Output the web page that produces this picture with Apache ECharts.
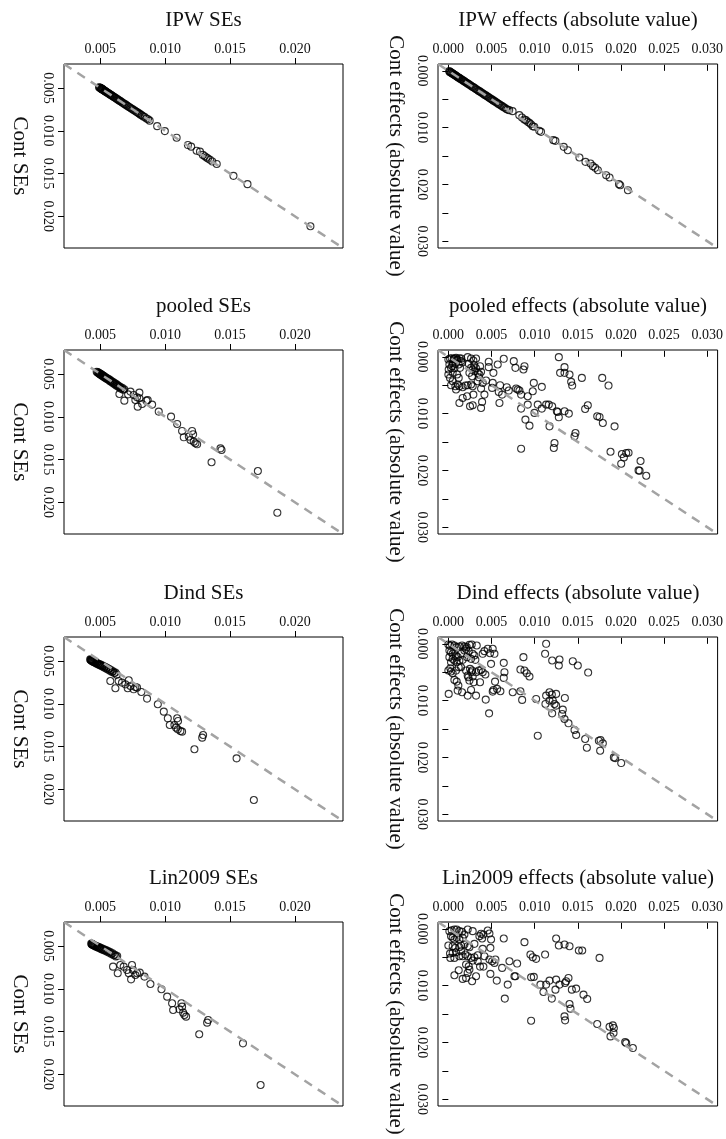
<!DOCTYPE html>
<html>
<head>
<meta charset="utf-8">
<script src="https://cdn.jsdelivr.net/npm/echarts@6/dist/echarts.min.js"></script>
<style>
  html, body { margin: 0; background: #fff; }
  #chart { width: 726px; height: 1139px; }
</style>
</head>
<body>
<div id="chart"></div>
<script>
// panels: one row per method, SEs on the left, effects on the right
const methods = ['IPW', 'pooled', 'Dind', 'Lin2009'];
const seRange = [0.0022, 0.0237];
const effRange = [-0.0012, 0.0312];
const seTicks = [0.005, 0.010, 0.015, 0.020];
const effTicks = [0.000, 0.005, 0.010, 0.015, 0.020, 0.025, 0.030];
const effYLabels = [0.000, 0.010, 0.020, 0.030];

const ipwSe = [
  [.00490,.00492],[.00495,.00494],[.00500,.00498],[.00502,.00505],[.00505,.00503],[.00508,.00510],[.00510,.00508],
  [.00513,.00515],[.00516,.00514],[.00519,.00520],[.00522,.00524],[.00526,.00525],[.00530,.00532],[.00534,.00533],
  [.00538,.00540],[.00542,.00541],[.00546,.00548],[.00551,.00550],[.00556,.00558],[.00561,.00560],[.00566,.00568],
  [.00571,.00570],[.00576,.00578],[.00581,.00580],[.00587,.00588],[.00592,.00591],[.00598,.00600],[.00604,.00603],
  [.00610,.00612],[.00617,.00615],[.00624,.00626],[.00631,.00630],[.00638,.00640],[.00645,.00644],[.00652,.00654],
  [.00660,.00658],[.00668,.00670],[.00676,.00675],[.00685,.00687],[.00693,.00692],[.00702,.00704],[.00711,.00710],
  [.00720,.00722],[.00729,.00728],[.00738,.00740],[.00747,.00746],[.00756,.00758],[.00765,.00764],[.00774,.00776],
  [.00783,.00782],[.00792,.00794],[.00801,.00800],[.00810,.00812],[.00820,.00818],[.00830,.00832],[.00842,.00840],
  [.00855,.00856],[.00868,.00866],[.00880,.00882],
  [.00938,.00946],[.00997,.01004],[.01088,.01081],[.01175,.01167],[.01200,.01186],[.01242,.01233],[.01268,.01244],
  [.01290,.01282],[.01305,.01298],[.01318,.01312],[.01330,.01325],[.01345,.01338],[.01363,.01360],[.01397,.01388],
  [.01526,.01527],[.01634,.01624],[.02119,.02116]
];

const ipwEff = [
  [.00010,.00005],[.00015,.00020],[.00022,.00018],[.00030,.00032],[.00038,.00035],[.00045,.00048],[.00052,.00050],
  [.00060,.00062],[.00068,.00066],[.00075,.00078],[.00083,.00080],[.00090,.00093],[.00098,.00096],[.00106,.00108],
  [.00114,.00112],[.00122,.00125],[.00130,.00128],[.00140,.00142],[.00150,.00148],[.00160,.00163],[.00170,.00168],
  [.00180,.00182],[.00190,.00188],[.00200,.00203],[.00212,.00210],[.00224,.00226],[.00236,.00234],[.00248,.00250],
  [.00260,.00258],[.00272,.00275],[.00285,.00283],[.00298,.00300],[.00310,.00308],[.00322,.00325],[.00335,.00333],
  [.00348,.00350],[.00360,.00358],[.00372,.00375],[.00385,.00383],[.00398,.00400],[.00410,.00408],[.00422,.00425],
  [.00435,.00433],[.00448,.00450],[.00460,.00458],[.00472,.00475],[.00485,.00483],[.00498,.00500],[.00510,.00508],
  [.00522,.00525],[.00535,.00533],[.00548,.00550],[.00560,.00558],[.00575,.00578],[.00590,.00588],[.00605,.00607],
  [.00620,.00618],[.00635,.00638],[.00650,.00648],[.00668,.00670],[.00685,.00683],[.00705,.00693],
  [.00744,.00710],[.00822,.00781],[.00853,.00822],[.00880,.00857],[.00899,.00869],[.00919,.00898],[.00938,.00916],
  [.00957,.00940],[.00977,.00975],[.00996,.00986],[.01054,.01057],[.01074,.01075],[.01217,.01221],[.01240,.01233],
  [.01337,.01339],[.01384,.01398],[.01519,.01527],[.01589,.01603],[.01647,.01632],[.01674,.01679],[.01702,.01709],
  [.01733,.01750],[.01829,.01838],[.01868,.01879],[.01977,.01996],[.01992,.02014],[.02081,.02102]
];

const pooledSe = [
  [.00472,.00474],[.00478,.00482],[.00483,.00480],[.00487,.00492],[.00490,.00488],[.00494,.00500],[.00497,.00495],
  [.00500,.00506],[.00503,.00502],[.00506,.00512],[.00510,.00508],[.00513,.00520],[.00517,.00515],[.00520,.00528],
  [.00524,.00522],[.00528,.00536],[.00532,.00530],[.00536,.00545],[.00540,.00538],[.00545,.00552],[.00550,.00548],
  [.00555,.00562],[.00560,.00556],[.00565,.00572],[.00570,.00566],[.00575,.00584],[.00580,.00576],[.00586,.00594],
  [.00592,.00588],[.00598,.00608],[.00604,.00600],[.00610,.00620],[.00616,.00612],[.00622,.00634],[.00628,.00625],
  [.00634,.00645],[.00640,.00638],[.00646,.00658],[.00652,.00650],[.00660,.00672],[.00668,.00662],[.00676,.00684],
  [.00684,.00678],
  [.00647,.00734],[.00685,.00812],[.00714,.00738],[.00732,.00706],[.00757,.00745],[.00770,.00804],[.00783,.00773],
  [.00801,.00718],[.00801,.00784],[.00788,.00882],[.00822,.00851],[.00855,.00812],[.00865,.00804],[.00899,.00858],
  [.00950,.00940],[.01045,.00999],[.01092,.01084],[.01130,.01166],[.01143,.01240],[.01182,.01232],[.01195,.01271],
  [.01207,.01166],[.01215,.01205],[.01220,.01291],[.01233,.01310],[.01246,.01322],[.01357,.01532],[.01426,.01369],
  [.01434,.01388],[.01714,.01634],[.01864,.02121]
];

const pooledEff = [
  [.00000,.00047],[.00019,.00029],[.00039,.00024],[.00062,.00041],[.00089,.00018],[.00108,.00047],[.00128,.00024],
  [.00147,.00076],[.00050,.00106],[.00081,.00124],[.00120,.00135],[.00135,.00194],[.00012,.00135],[.00031,.00194],
  [.00000,.00312],[.00019,.00371],[.00050,.00429],[.00031,.00500],[.00081,.00518],[.00108,.00488],[.00089,.00576],
  [.00128,.00518],[.00166,.00535],[.00197,.00506],[.00224,.00500],[.00263,.00488],[.00282,.00518],[.00120,.00371],
  [.00101,.00312],[.00050,.00282],[.00004,.00224],[.00224,.00006],[.00263,.00029],[.00290,.00065],[.00321,.00029],
  [.00236,.00124],[.00263,.00194],[.00282,.00224],[.00302,.00253],[.00340,.00282],[.00360,.00312],[.00275,.00341],
  [.00379,.00265],[.00367,.00165],[.00352,.00359],[.00244,.00282],[.00070,.00030],[.00100,.00060],[.00150,.00030],
  [.00045,.00160],[.00070,.00200],[.00160,.00100],[.00300,.00150],[.00320,.00200],
  [.00128,.00812],[.00166,.00724],[.00217,.00694],[.00251,.00871],[.00282,.00853],[.00290,.00665],[.00379,.00900],
  [.00391,.00794],[.00418,.00665],[.00379,.00559],[.00398,.00459],[.00340,.00429],[.00437,.00418],[.00468,.00088],
  [.00468,.00182],[.00522,.00282],[.00514,.00459],[.00507,.00547],[.00572,.00135],[.00584,.00618],[.00592,.00812],
  [.00599,.00500],[.00623,.00665],[.00642,.00035],[.00677,.00535],[.00700,.00594],[.00758,.00076],[.00777,.00194],
  [.00785,.00559],[.00804,.00576],[.00824,.00594],[.00843,.00665],[.00882,.00165],[.00870,.00224],[.00843,.00912],
  [.00893,.01106],[.00920,.00694],[.00920,.00841],[.00940,.01212],[.00978,.00606],[.00990,.00459],[.00998,.00988],
  [.01083,.00529],[.01036,.00841],[.01083,.00912],[.01133,.00841],[.01164,.00841],[.01203,.00871],[.01172,.01224],
  [.01230,.01518],[.01222,.01606],[.01257,.00959],[.01268,.00971],[.01280,.01065],[.01280,.00006],[.01295,.00282],
  [.01346,.00182],[.01346,.00282],[.01346,.00959],[.01396,.01000],[.01404,.00312],[.01423,.00441],[.01435,.00506],
  [.00843,.01618],[.01462,.01400],[.01473,.01341],[.01547,.00371],[.01585,.00918],[.01616,.00853],[.01725,.01047],
  [.01752,.01059],[.01790,.01165],[.01783,.00371],[.01856,.00506],[.01926,.01224],[.01879,.01671],[.02011,.01712],
  [.02034,.01771],[.02061,.01694],[.02088,.01688],[.02003,.01882],[.02227,.01835],[.02204,.02000],[.02216,.02006],
  [.02293,.02094]
];

const dindSe = [
  [.00422,.00482],[.00425,.00490],[.00428,.00486],[.00431,.00496],[.00434,.00492],[.00437,.00502],[.00440,.00497],
  [.00444,.00508],[.00448,.00503],[.00452,.00515],[.00456,.00510],[.00460,.00522],[.00465,.00517],[.00470,.00530],
  [.00475,.00524],[.00480,.00538],[.00486,.00532],[.00492,.00547],[.00498,.00540],[.00504,.00556],[.00510,.00549],
  [.00516,.00566],[.00523,.00558],[.00530,.00577],[.00537,.00568],[.00544,.00588],[.00551,.00580],[.00558,.00600],
  [.00566,.00592],[.00574,.00614],[.00582,.00605],[.00590,.00628],[.00598,.00620],[.00607,.00642],[.00616,.00636],
  [.00626,.00660],
  [.00577,.00734],[.00616,.00819],[.00641,.00734],[.00667,.00753],[.00693,.00773],[.00711,.00819],[.00719,.00726],
  [.00732,.00792],[.00757,.00831],[.00770,.00804],[.00783,.00812],[.00816,.00862],[.00860,.00940],[.00943,.01006],
  [.00989,.01092],[.01020,.01170],[.01035,.01248],[.01071,.01248],[.01092,.01170],[.01099,.01201],[.01084,.01279],
  [.01097,.01299],[.01117,.01318],[.01130,.01326],[.01285,.01396],[.01292,.01365],[.01225,.01532],[.01550,.01638],
  [.01683,.02125]
];

const dindEff = [
  [.00000,.00012],[.00019,.00029],[.00043,.00012],[.00070,.00029],[.00097,.00059],[.00128,.00047],[.00159,.00029],
  [.00186,.00047],[.00213,.00059],[.00244,.00018],[.00271,.00012],[.00329,.00029],[.00012,.00118],[.00031,.00147],
  [.00050,.00176],[.00070,.00118],[.00089,.00206],[.00108,.00235],[.00050,.00265],[.00012,.00235],[.00031,.00324],
  [.00070,.00294],[.00128,.00294],[.00147,.00176],[.00186,.00118],[.00205,.00088],[.00236,.00129],[.00282,.00176],
  [.00302,.00206],[.00313,.00282],[.00263,.00265],[.00217,.00235],[.00166,.00282],[.00097,.00324],[.00398,.00176],
  [.00418,.00129],[.00456,.00088],[.00483,.00165],[.00514,.00088],[.00534,.00176],[.00495,.00353],[.00642,.00335],
  [.00000,.00471],[.00023,.00429],[.00050,.00518],[.00031,.00488],[.00089,.00471],[.00120,.00412],[.00147,.00412],
  [.00070,.00635],[.00097,.00665],[.00116,.00735],[.00108,.00824],[.00159,.00853],[.00224,.00912],[.00263,.00812],
  [.00321,.00912],[.00294,.00676],[.00244,.00647],[.00224,.00559],[.00205,.00471],[.00251,.00441],[.00275,.00471],
  [.00321,.00500],[.00352,.00471],[.00379,.00459],[.00398,.00500],[.00429,.00541],[.00367,.00676],[.00282,.00576],
  [.00232,.00588],[.00263,.00500],[.00004,.00882],[.00541,.00665],[.00522,.00812],[.00514,.00841],[.00565,.00794],
  [.00603,.00835],[.00642,.00600],[.00650,.00500],[.00433,.00982],[.00472,.01224],[.00746,.00853],[.00835,.00835],
  [.00855,.00988],[.00870,.00235],[.00835,.00453],[.00882,.00471],[.00909,.00518],[.00940,.00576],[.01017,.00971],
  [.01036,.01618],[.01133,.00000],[.01121,.00176],[.01203,.00294],[.01288,.00276],[.01280,.00382],[.01442,.00306],
  [.01500,.00382],[.01620,.00506],[.01172,.00853],[.01199,.00894],[.01249,.00882],[.01133,.00912],[.01172,.01000],
  [.01210,.01000],[.01230,.01059],[.01249,.01088],[.01125,.01059],[.01203,.01224],[.01350,.00953],[.01326,.01159],
  [.01319,.01235],[.01346,.01324],[.01392,.01400],[.01462,.01518],[.01481,.01606],[.01585,.01676],[.01605,.01829],
  [.01744,.01706],[.01763,.01694],[.01790,.01753],[.01759,.01882],[.01918,.02000],[.01933,.02012],[.02003,.02100]
];

const linSe = [
  [.00430,.00472],[.00433,.00480],[.00436,.00476],[.00439,.00486],[.00442,.00482],[.00446,.00492],[.00450,.00488],
  [.00454,.00498],[.00458,.00494],[.00463,.00505],[.00468,.00500],[.00473,.00512],[.00478,.00507],[.00484,.00520],
  [.00490,.00514],[.00496,.00528],[.00502,.00522],[.00508,.00537],[.00515,.00530],[.00522,.00546],[.00529,.00539],
  [.00536,.00556],[.00544,.00549],[.00552,.00567],[.00560,.00560],[.00568,.00580],[.00576,.00572],[.00585,.00594],
  [.00594,.00586],[.00603,.00608],[.00612,.00602],[.00621,.00624],[.00630,.00618],
  [.00598,.00742],[.00634,.00819],[.00654,.00722],[.00680,.00742],[.00706,.00780],[.00719,.00819],[.00737,.00890],
  [.00744,.00722],[.00752,.00780],[.00770,.00839],[.00783,.00819],[.00804,.00812],[.00840,.00858],[.00886,.00944],
  [.00971,.01006],[.01015,.01092],[.01053,.01170],[.01061,.01248],[.01110,.01240],[.01125,.01170],[.01130,.01209],
  [.01138,.01279],[.01148,.01307],[.01161,.01326],[.01262,.01532],[.01323,.01396],[.01331,.01365],[.01599,.01638],
  [.01735,.02125]
];

const linEff = [
  [.00012,.00041],[.00039,.00024],[.00070,.00012],[.00097,.00012],[.00128,.00041],[.00159,.00053],[.00186,.00100],
  [.00224,.00012],[.00282,.00041],[.00031,.00129],[.00050,.00159],[.00070,.00188],[.00097,.00159],[.00128,.00188],
  [.00166,.00159],[.00186,.00276],[.00224,.00306],[.00244,.00324],[.00302,.00265],[.00000,.00294],[.00050,.00306],
  [.00081,.00335],[.00128,.00324],[.00147,.00294],[.00360,.00129],[.00391,.00171],[.00406,.00100],[.00379,.00088],
  [.00456,.00029],[.00476,.00082],[.00495,.00188],[.00398,.00353],[.00487,.00335],[.00642,.00171],[.00882,.00235],
  [.00019,.00435],[.00050,.00424],[.00089,.00412],[.00147,.00394],[.00197,.00453],[.00023,.00512],[.00070,.00512],
  [.00128,.00482],[.00166,.00482],[.00224,.00482],[.00263,.00512],[.00302,.00500],[.00340,.00465],[.00282,.00559],
  [.00340,.00571],[.00367,.00665],[.00406,.00665],[.00205,.00629],[.00236,.00659],[.00244,.00718],[.00224,.00776],
  [.00205,.00865],[.00166,.00882],[.00275,.00924],[.00321,.00835],[.00120,.00729],[.00070,.00818],[.00418,.00482],
  [.00476,.00541],[.00507,.00571],[.00534,.00600],[.00545,.00541],[.00623,.00688],[.00487,.00794],[.00561,.00912],
  [.00654,.01229],[.00688,.00982],[.00708,.00571],[.00766,.00835],[.00777,.00835],[.00797,.00612],[.00951,.00453],
  [.00978,.00500],[.01017,.00529],[.00959,.00853],[.00990,.00847],[.01067,.00982],[.01102,.01112],[.01121,.00453],
  [.01133,.00982],[.01172,.00912],[.01199,.01229],[.01241,.01071],[.01249,.00894],[.01249,.00171],[.01280,.00294],
  [.01346,.00276],[.01404,.00306],[.01288,.00982],[.01353,.00953],[.01365,.00924],[.01392,.00865],[.01431,.01071],
  [.01481,.01053],[.01404,.01324],[.01415,.01406],[.01512,.00382],[.01551,.00382],[.01566,.01159],[.01609,.01235],
  [.01346,.01541],[.01353,.01612],[.00959,.01618],[.01725,.01676],[.01752,.00512],[.01868,.01724],[.01906,.01700],
  [.01918,.01747],[.01914,.01835],[.01879,.01894],[.02049,.01994],[.02061,.02012],[.02138,.02100]
];

const seData = [ipwSe, pooledSe, dindSe, linSe];
const effData = [ipwEff, pooledEff, dindEff, linEff];

var dom = document.querySelector('#chart');
var myChart = echarts.init(dom);

const font = 'Liberation Serif';
const ink = '#111';
const rowTops = [64, 350, 637, 922];
const boxH = 184;

const grid = [], xAxis = [], yAxis = [], series = [], graphic = [];

methods.forEach((m, i) => {
  const top = rowTops[i];
  const panels = [
    { pts: seData[i], range: seRange, xt: seTicks, yt: seTicks, yl: seTicks, left: 64, width: 279,
      title: m + ' SEs', yname: 'Cont SEs', gap: 34 },
    { pts: effData[i], range: effRange, xt: effTicks, yt: effTicks, yl: effYLabels, left: 438, width: 280,
      title: m + ' effects (absolute value)', yname: 'Cont effects (absolute value)', gap: 32 }
  ];
  panels.forEach(p => {
    const k = grid.length;
    grid.push({ left: p.left, top: top, width: p.width, height: boxH, show: true,
      borderColor: '#000', borderWidth: 1, backgroundColor: 'transparent' });
    xAxis.push({
      type: 'value', gridIndex: k, position: 'top', min: p.range[0], max: p.range[1],
      axisLine: { show: false }, splitLine: { show: false },
      axisTick: { show: true, length: 6, customValues: p.xt, lineStyle: { color: '#000' } },
      axisLabel: { customValues: p.xt, margin: 8, formatter: v => v.toFixed(3),
        color: ink, fontFamily: font, fontSize: 14 }
    });
    yAxis.push({
      type: 'value', gridIndex: k, inverse: true, min: p.range[0], max: p.range[1],
      axisLine: { show: false }, splitLine: { show: false },
      axisTick: { show: true, length: 6, customValues: p.yt, lineStyle: { color: '#000' } },
      axisLabel: { customValues: p.yl, margin: 9, rotate: -90, formatter: v => v.toFixed(3),
        color: ink, fontFamily: font, fontSize: 14 },
      name: p.yname, nameLocation: 'middle', nameRotate: -90, nameGap: p.gap,
      nameTextStyle: { color: ink, fontFamily: font, fontSize: 21 }
    });
    series.push({
      type: 'scatter', xAxisIndex: k, yAxisIndex: k, data: p.pts,
      symbol: 'circle', symbolSize: 7, z: 2,
      itemStyle: { color: 'rgba(0,0,0,0)', borderColor: '#000', borderWidth: 1.1 }
    });
    // 45 degree reference line
    series.push({
      type: 'line', xAxisIndex: k, yAxisIndex: k, silent: true, z: 3,
      data: [[p.range[0], p.range[0]], [p.range[1], p.range[1]]],
      symbol: 'none', lineStyle: { color: '#a3a3a3', width: 2.5, type: [9, 7] }
    });
    graphic.push({
      type: 'text', x: p.left + p.width / 2, y: top - 44,
      style: { text: p.title, textAlign: 'center', textVerticalAlign: 'middle',
        font: '21px "Liberation Serif"', fill: ink }
    });
  });
});

const option = {
  animation: false,
  backgroundColor: '#fff',
  grid, xAxis, yAxis, series, graphic
};
myChart.setOption(option);
</script>
</body>
</html>
